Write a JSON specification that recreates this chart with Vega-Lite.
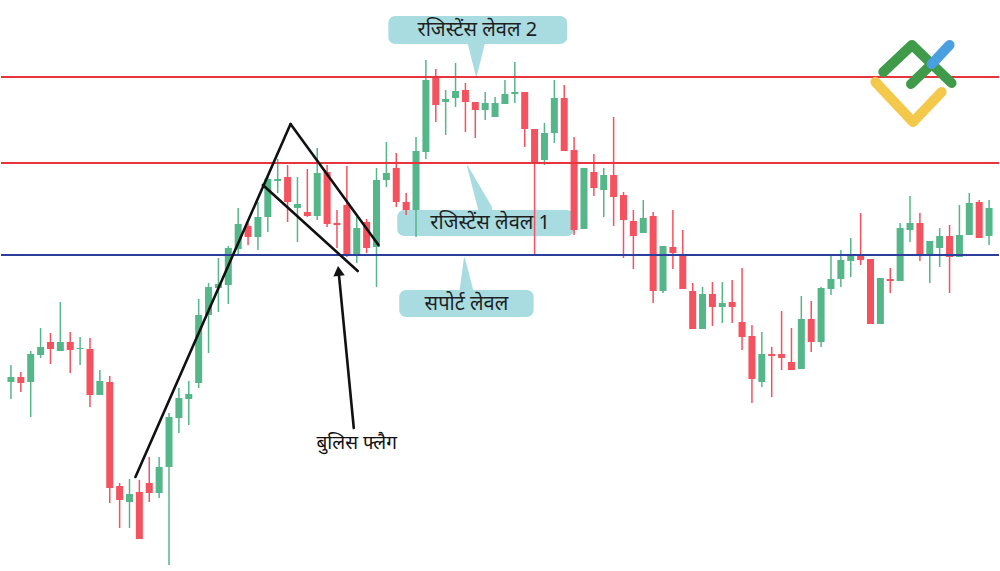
{
  "$schema": "https://vega.github.io/schema/vega-lite/v6.json",
  "width": 1000,
  "height": 571,
  "autosize": {"type": "fit", "contains": "padding"},
  "padding": 0,
  "background": "#ffffff",
  "config": {"view": {"stroke": null}},
  "resolve": {"scale": {"color": "independent", "size": "independent"}},
  "datasets": {
    "candles": [
      {"i":0,"o":218,"c":223,"h":235,"l":201},
      {"i":1,"o":223,"c":217,"h":228,"l":208},
      {"i":2,"o":218,"c":246,"h":249,"l":183},
      {"i":3,"o":245,"c":253,"h":272,"l":242},
      {"i":4,"o":258,"c":251,"h":267,"l":236},
      {"i":5,"o":249,"c":258,"h":298,"l":249},
      {"i":6,"o":258,"c":250,"h":268,"l":227},
      {"i":7,"o":251,"c":252,"h":263,"l":235},
      {"i":8,"o":251,"c":205,"h":262,"l":193},
      {"i":9,"o":205,"c":219,"h":230,"l":205},
      {"i":10,"o":218,"c":112,"h":224,"l":97},
      {"i":11,"o":114,"c":100,"h":117,"l":72},
      {"i":12,"o":98,"c":106,"h":121,"l":72},
      {"i":13,"o":108,"c":61,"h":120,"l":61},
      {"i":14,"o":117,"c":107,"h":143,"l":98},
      {"i":15,"o":107,"c":133,"h":143,"l":102},
      {"i":16,"o":133,"c":183,"h":187,"l":35},
      {"i":17,"o":182,"c":202,"h":212,"l":167},
      {"i":18,"o":201,"c":206,"h":219,"l":175},
      {"i":19,"o":217,"c":285,"h":301,"l":212},
      {"i":20,"o":285,"c":313,"h":317,"l":247},
      {"i":21,"o":312,"c":316,"h":342,"l":288},
      {"i":22,"o":315,"c":352,"h":354,"l":296},
      {"i":23,"o":351,"c":376,"h":392,"l":346},
      {"i":24,"o":374,"c":363,"h":377,"l":355},
      {"i":25,"o":363,"c":383,"h":398,"l":350},
      {"i":26,"o":383,"c":421,"h":423,"l":368},
      {"i":27,"o":419,"c":421,"h":441,"l":407},
      {"i":28,"o":423,"c":398,"h":435,"l":378},
      {"i":29,"o":392,"c":396,"h":423,"l":358},
      {"i":30,"o":388,"c":384,"h":431,"l":383},
      {"i":31,"o":384,"c":427,"h":452,"l":380},
      {"i":32,"o":428,"c":376,"h":435,"l":373},
      {"i":33,"o":377,"c":375,"h":390,"l":352},
      {"i":34,"o":395,"c":345,"h":434,"l":343},
      {"i":35,"o":345,"c":372,"h":383,"l":337},
      {"i":36,"o":378,"c":352,"h":381,"l":347},
      {"i":37,"o":353,"c":420,"h":432,"l":313},
      {"i":38,"o":420,"c":427,"h":458,"l":413},
      {"i":39,"o":432,"c":398,"h":447,"l":393},
      {"i":40,"o":398,"c":390,"h":407,"l":385},
      {"i":41,"o":390,"c":449,"h":463,"l":363},
      {"i":42,"o":448,"c":520,"h":540,"l":441},
      {"i":43,"o":522,"c":495,"h":531,"l":478},
      {"i":44,"o":498,"c":501,"h":510,"l":465},
      {"i":45,"o":502,"c":509,"h":537,"l":493},
      {"i":46,"o":510,"c":498,"h":517,"l":468},
      {"i":47,"o":498,"c":490,"h":498,"l":462},
      {"i":48,"o":490,"c":497,"h":508,"l":480},
      {"i":49,"o":483,"c":497,"h":503,"l":483},
      {"i":50,"o":496,"c":506,"h":520,"l":496},
      {"i":51,"o":506,"c":508,"h":538,"l":497},
      {"i":52,"o":508,"c":471,"h":508,"l":453},
      {"i":53,"o":471,"c":437,"h":471,"l":345},
      {"i":54,"o":440,"c":467,"h":477,"l":435},
      {"i":55,"o":467,"c":502,"h":520,"l":457},
      {"i":56,"o":502,"c":449,"h":515,"l":449},
      {"i":57,"o":450,"c":370,"h":463,"l":365},
      {"i":58,"o":371,"c":432,"h":432,"l":371},
      {"i":59,"o":428,"c":412,"h":446,"l":404},
      {"i":60,"o":410,"c":425,"h":432,"l":383},
      {"i":61,"o":425,"c":403,"h":483,"l":374},
      {"i":62,"o":405,"c":380,"h":408,"l":342},
      {"i":63,"o":379,"c":364,"h":390,"l":331},
      {"i":64,"o":367,"c":382,"h":400,"l":367},
      {"i":65,"o":384,"c":309,"h":388,"l":297},
      {"i":66,"o":309,"c":354,"h":354,"l":307},
      {"i":67,"o":353,"c":347,"h":390,"l":331},
      {"i":68,"o":345,"c":311,"h":370,"l":311},
      {"i":69,"o":309,"c":271,"h":317,"l":271},
      {"i":70,"o":271,"c":306,"h":313,"l":271},
      {"i":71,"o":306,"c":293,"h":318,"l":274},
      {"i":72,"o":293,"c":297,"h":318,"l":277},
      {"i":73,"o":298,"c":293,"h":320,"l":277},
      {"i":74,"o":278,"c":263,"h":332,"l":250},
      {"i":75,"o":264,"c":221,"h":275,"l":197},
      {"i":76,"o":218,"c":246,"h":268,"l":213},
      {"i":77,"o":246,"c":244,"h":253,"l":203},
      {"i":78,"o":246,"c":242,"h":289,"l":230},
      {"i":79,"o":238,"c":230,"h":272,"l":230},
      {"i":80,"o":231,"c":281,"h":304,"l":231},
      {"i":81,"o":281,"c":258,"h":299,"l":248},
      {"i":82,"o":258,"c":312,"h":313,"l":253},
      {"i":83,"o":311,"c":321,"h":344,"l":305},
      {"i":84,"o":321,"c":340,"h":350,"l":313},
      {"i":85,"o":339,"c":344,"h":362,"l":323},
      {"i":86,"o":344,"c":340,"h":387,"l":335},
      {"i":87,"o":341,"c":276,"h":341,"l":276},
      {"i":88,"o":276,"c":322,"h":322,"l":276},
      {"i":89,"o":321,"c":319,"h":332,"l":307},
      {"i":90,"o":319,"c":372,"h":377,"l":319},
      {"i":91,"o":370,"c":377,"h":404,"l":358},
      {"i":92,"o":377,"c":344,"h":387,"l":339},
      {"i":93,"o":344,"c":359,"h":359,"l":317},
      {"i":94,"o":352,"c":364,"h":372,"l":333},
      {"i":95,"o":364,"c":343,"h":375,"l":307},
      {"i":96,"o":343,"c":365,"h":395,"l":343},
      {"i":97,"o":365,"c":397,"h":407,"l":365},
      {"i":98,"o":398,"c":362,"h":400,"l":362},
      {"i":99,"o":364,"c":392,"h":400,"l":355}
    ],
    "levels": [
      {"name":"Resistance 2","p":523,"kind":"resistance"},
      {"name":"Resistance 1","p":437,"kind":"resistance"},
      {"name":"Support","p":345,"kind":"support"}
    ],
    "boxes": [
      {"name":"R2","i":38.2,"i2":56.3,"p":584,"p2":556},
      {"name":"R1","i":39.1,"i2":57.0,"p":390,"p2":364},
      {"name":"S","i":39.3,"i2":52.9,"p":310,"p2":283}
    ],
    "pointers": [
      {"name":"R2","k":0,"i":47.1,"p":558,"w":18},
      {"name":"R2","k":1,"i":47.1,"p":524,"w":0},
      {"name":"R1","k":0,"i":48.0,"p":391,"w":14},
      {"name":"R1","k":1,"i":46.2,"p":434,"w":0},
      {"name":"S","k":0,"i":46.1,"p":309,"w":14},
      {"name":"S","k":1,"i":45.9,"p":342,"w":0}
    ],
    "trend": [
      {"seg":"pole","i":12.6,"p":123,"i2":28.3,"p2":476},
      {"seg":"flagTop","i":28.3,"p":476,"i2":37.2,"p2":355},
      {"seg":"flagBottom","i":25.5,"p":415,"i2":35.1,"p2":329},
      {"seg":"arrow","i":34.7,"p":172,"i2":33.2,"p2":325}
    ],
    "arrowhead": [{"i":33.16,"p":329}],
    "labels": [
      {"t":"रजिस्टेंस लेवल 2","i":47.2,"p":570},
      {"t":"रजिस्टेंस लेवल 1","i":48.5,"p":377},
      {"t":"सपोर्ट लेवल","i":46.1,"p":296}
    ],
    "notes": [
      {"t":"बुलिस फ्लैग","i":35.0,"p":157}
    ],
    "logo": [
      {"part":"L1","k":0,"i":87.5,"p":518},
      {"part":"L1","k":1,"i":91.3,"p":478},
      {"part":"L1","k":2,"i":94.2,"p":508},
      {"part":"L2","k":0,"i":88.3,"p":528},
      {"part":"L2","k":1,"i":91.2,"p":555},
      {"part":"L2","k":2,"i":95.2,"p":517},
      {"part":"L3","k":0,"i":91.1,"p":516},
      {"part":"L3","k":1,"i":93.2,"p":536},
      {"part":"L4","k":0,"i":93.2,"p":536},
      {"part":"L4","k":1,"i":95.0,"p":555}
    ]
  },
  "layer": [
    {
      "data": {"name": "boxes"},
      "mark": {"type": "rect", "cornerRadius": 7, "fill": "#a9dce0"},
      "encoding": {
        "x": {"field": "i", "type": "quantitative", "scale": {"domain": [-0.5, 99.5], "nice": false, "zero": false}, "axis": null},
        "x2": {"field": "i2"},
        "y": {"field": "p", "type": "quantitative", "scale": {"domain": [29, 600], "nice": false, "zero": false}, "axis": null},
        "y2": {"field": "p2"}
      }
    },
    {
      "data": {"name": "pointers"},
      "mark": {"type": "trail", "color": "#a9dce0"},
      "encoding": {
        "x": {"field": "i", "type": "quantitative", "axis": null},
        "y": {"field": "p", "type": "quantitative", "axis": null},
        "detail": {"field": "name"},
        "order": {"field": "k"},
        "size": {"field": "w", "type": "quantitative", "scale": null, "legend": null}
      }
    },
    {
      "data": {"name": "candles"},
      "mark": {"type": "rule", "strokeWidth": 1.5},
      "encoding": {
        "x": {"field": "i", "type": "quantitative", "axis": null},
        "y": {"field": "l", "type": "quantitative", "axis": null},
        "y2": {"field": "h"},
        "color": {"condition": {"test": "datum.c >= datum.o", "value": "#55b689"}, "value": "#f4525f"}
      }
    },
    {
      "data": {"name": "candles"},
      "mark": {"type": "bar", "width": 7},
      "encoding": {
        "x": {"field": "i", "type": "quantitative", "axis": null},
        "y": {"field": "o", "type": "quantitative", "axis": null},
        "y2": {"field": "c"},
        "color": {"condition": {"test": "datum.c >= datum.o", "value": "#55b689"}, "value": "#f4525f"}
      }
    },
    {
      "data": {"name": "levels"},
      "mark": {"type": "rule", "strokeWidth": 2},
      "encoding": {
        "y": {"field": "p", "type": "quantitative", "axis": null},
        "color": {"field": "kind", "type": "nominal", "scale": {"domain": ["resistance", "support"], "range": ["#e8343c", "#2c3e9c"]}, "legend": null}
      }
    },
    {
      "data": {"name": "trend"},
      "mark": {"type": "rule", "strokeWidth": 2.6, "color": "#111111", "strokeCap": "round"},
      "encoding": {
        "x": {"field": "i", "type": "quantitative", "axis": null},
        "x2": {"field": "i2"},
        "y": {"field": "p", "type": "quantitative", "axis": null},
        "y2": {"field": "p2"}
      }
    },
    {
      "data": {"name": "arrowhead"},
      "mark": {"type": "point", "shape": "triangle-up", "filled": true, "size": 130, "color": "#111111", "opacity": 1, "angle": 354},
      "encoding": {
        "x": {"field": "i", "type": "quantitative", "axis": null},
        "y": {"field": "p", "type": "quantitative", "axis": null}
      }
    },
    {
      "data": {"name": "labels"},
      "mark": {"type": "text", "font": "Noto Sans", "fontSize": 20, "color": "#1e1e1e", "align": "center", "baseline": "middle"},
      "encoding": {
        "x": {"field": "i", "type": "quantitative", "axis": null},
        "y": {"field": "p", "type": "quantitative", "axis": null},
        "text": {"field": "t"}
      }
    },
    {
      "data": {"name": "notes"},
      "mark": {"type": "text", "font": "Noto Sans", "fontSize": 19, "color": "#111111", "align": "center", "baseline": "middle"},
      "encoding": {
        "x": {"field": "i", "type": "quantitative", "axis": null},
        "y": {"field": "p", "type": "quantitative", "axis": null},
        "text": {"field": "t"}
      }
    },
    {
      "data": {"name": "logo"},
      "mark": {"type": "line", "strokeWidth": 10, "strokeCap": "round", "strokeJoin": "round"},
      "encoding": {
        "x": {"field": "i", "type": "quantitative", "axis": null},
        "y": {"field": "p", "type": "quantitative", "axis": null},
        "order": {"field": "k"},
        "detail": {"field": "part"},
        "color": {"field": "part", "type": "nominal", "scale": {"domain": ["L1", "L2", "L3", "L4"], "range": ["#f3c84b", "#3f9b49", "#3f9b49", "#4a9fe0"]}, "legend": null}
      }
    }
  ]
}
